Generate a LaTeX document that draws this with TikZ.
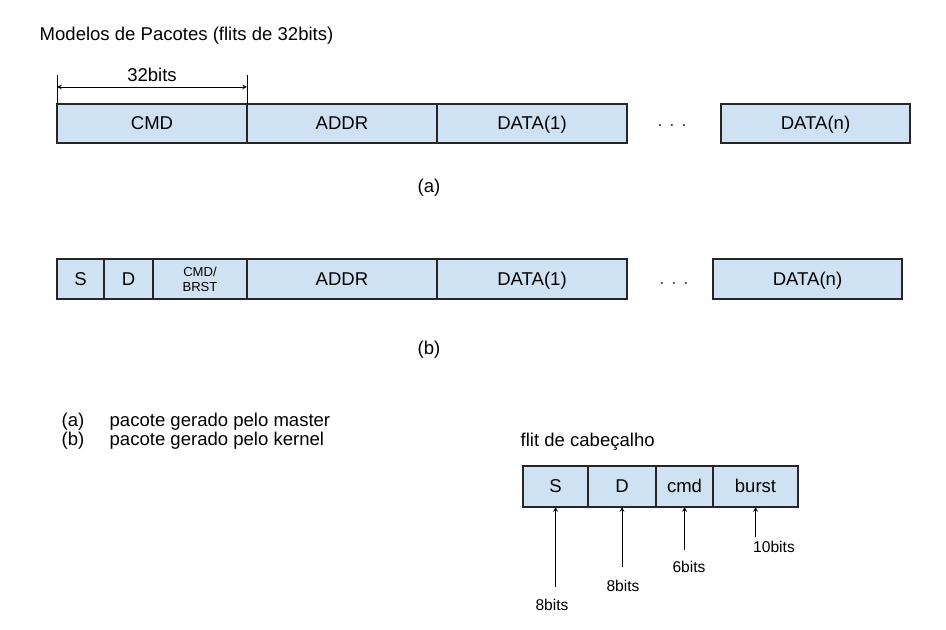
\documentclass[tikz,border=0pt]{standalone}
\usepackage{fontspec}
\setmainfont{Liberation Sans}
\usepackage{xcolor}
\usetikzlibrary{arrows,positioning}
\definecolor{fieldblue}{HTML}{CFE2F3}

\begin{document}
\begin{tikzpicture}[x=0.75pt,y=-0.75pt]
\tikzset{every node/.append style={font=\fontsize{13.9}{16}\selectfont}}
\tikzset{field/.style={draw=black!85,fill=fieldblue,line width=1.2pt,minimum height=29.25pt,inner sep=0pt,outer sep=0pt,anchor=west}}
\tikzset{cell/.style={field,text height=10pt,text depth=0.5pt}}
\tikzset{bits/.style={font=\fontsize{11.7}{14}\selectfont}}
\tikzset{thinline/.style={line width=0.6pt}}

\useasboundingbox (0,0) rectangle (946,630);

\node[anchor=west] (title) at (35,36) {Modelos de Pacotes (flits de 32bits)};

% pacote (a)
\node[cell,minimum width=142.5pt] (cmdA) at (57,123.5) {CMD};
\node[cell,minimum width=142.5pt,right=0pt of cmdA] (addrA) {ADDR};
\node[cell,minimum width=142.5pt,right=0pt of addrA] (dataA) {DATA(1)};
\node[cell,minimum width=141.75pt] (datanA) at (721,123.5) {DATA(n)};
\node[text=black!70] (dotsA) at (672,126) {. . .};

\draw[thinline] (cmdA.north west) -- ++(0,-29) coordinate (dimL);
\draw[thinline] (cmdA.north east) -- ++(0,-29) coordinate (dimR);
\draw[thinline,stealth-stealth] ([yshift=-9pt]dimL) -- ([yshift=-9pt]dimR)
  node[midway,above=0pt] (dimT) {32bits};

\node (capA) at (429,188) {(a)};

% pacote (b)
\tikzset{field/.append style={minimum height=30pt}}
\node[cell,minimum width=35.25pt] (sB) at (57,279) {S};
\node[cell,minimum width=36.75pt,right=0pt of sB] (dB) {D};
\node[field,minimum width=70.5pt,right=0pt of dB,align=center,font=\fontsize{9.8}{11}\selectfont] (cmdB) {CMD/\\BRST};
\node[cell,minimum width=142.5pt,right=0pt of cmdB] (addrB) {ADDR};
\node[cell,minimum width=142.5pt,right=0pt of addrB] (dataB) {DATA(1)};
\node[cell,minimum width=141.75pt] (datanB) at (713,279) {DATA(n)};
\node[text=black!70] (dotsB) at (674,284) {. . .};

\node (capB) at (429,350) {(b)};

% legenda
\node[anchor=west,align=left,font=\fontsize{13.9}{12.5}\selectfont] (legend) at (57,431)
  {\makebox[36pt][l]{(a)}pacote gerado pelo master\\
   \makebox[36pt][l]{(b)}pacote gerado pelo kernel};

% flit de cabecalho
\node[anchor=west] (hdrT) at (516,442) {flit de cabeçalho};
\tikzset{field/.append style={minimum height=30.75pt}}
\node[cell,minimum width=48.75pt] (hS) at (523,486.5) {S};
\node[cell,minimum width=51pt,right=0pt of hS] (hD) {D};
\node[cell,minimum width=42.75pt,right=0pt of hD] (hCmd) {cmd};
\node[cell,minimum width=63.75pt,right=0pt of hCmd] (hBurst) {burst};

\coordinate (tS) at (hS.south |- 0,587);
\coordinate (tD) at (hD.south |- 0,567);
\coordinate (tCmd) at (hCmd.south |- 0,550);
\coordinate (tBurst) at (hBurst.south |- 0,537);
\draw[thinline,-stealth] (tS) -- (hS.south);
\draw[thinline,-stealth] (tD) -- (hD.south);
\draw[thinline,-stealth] (tCmd) -- (hCmd.south);
\draw[thinline,-stealth] (tBurst) -- (hBurst.south);

\node[bits] (lS) at (552,605) {8bits};
\node[bits] (lD) at (623,586) {8bits};
\node[bits] (lCmd) at (689,567) {6bits};
\node[bits] (lBurst) at (774,547) {10bits};

\end{tikzpicture}
\end{document}
